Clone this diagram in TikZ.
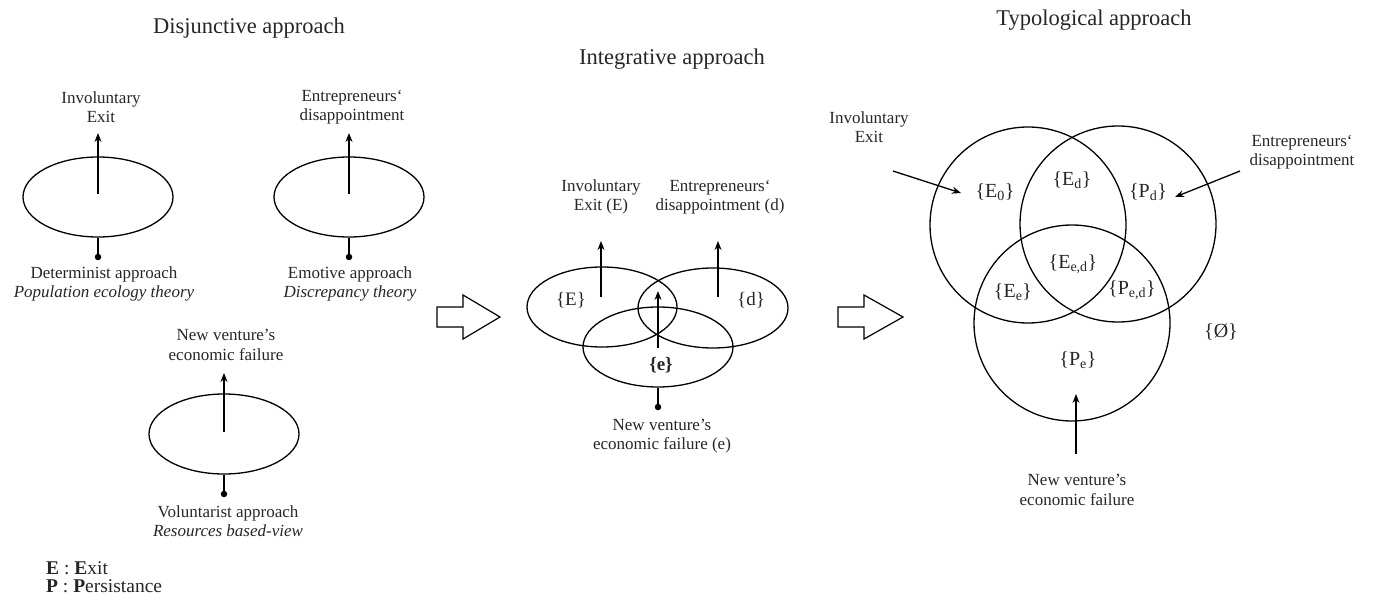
\documentclass[tikz,border=0pt]{standalone}
\usepackage{fontspec}
\setmainfont{Liberation Serif}
\usetikzlibrary{shapes.geometric,arrows.meta}
\begin{document}
\begin{tikzpicture}[x=1pt,y=-1pt,
  lbl/.style={align=center,inner sep=0pt,font=\fontsize{17}{19.5}\selectfont,text=black!85},
  set/.style={inner sep=0pt,font=\fontsize{20}{22}\selectfont,text=black!85},
  ttl/.style={inner sep=0pt,font=\fontsize{22.5}{25}\selectfont,text=black!85},
  legend/.style={anchor=base west,inner sep=0pt,font=\fontsize{19.5}{21}\selectfont,text=black!85},
  oval/.style={draw,ellipse,line width=1.3pt,minimum width=150pt,minimum height=80pt,inner sep=0pt},
  venn/.style={draw,circle,line width=1.3pt,minimum size=196pt,inner sep=0pt},
  up/.style={line width=1.3pt,-{Stealth[length=9pt,width=7pt]}},
  stem/.style={line width=1.3pt},
  dotn/.style={circle,fill,inner sep=0pt,minimum size=6.5pt},
  hollow/.style={draw,line width=1.2pt,fill=white}]
\useasboundingbox (0,0) rectangle (1384,596);

% ---------- titles
\node[ttl] (t1) at (249,28) {Disjunctive approach};
\node[ttl] (t2) at (672,59) {Integrative approach};
\node[ttl] (t3) at (1094,20) {Typological approach};

% ---------- disjunctive approach
\node[oval] (o1) at (98,197) {};
\node[oval] (o2) at (349,197) {};
\node[oval] (o3) at (224,434) {};
\coordinate (o1c) at (98,194); \coordinate (o1t) at (98,133);
\coordinate (o2c) at (349,194); \coordinate (o2t) at (349,133);
\coordinate (o3c) at (224,432); \coordinate (o3t) at (224,373);
\draw[up] (o1c) -- (o1t);
\draw[up] (o2c) -- (o2t);
\draw[up] (o3c) -- (o3t);
\node[dotn] (d1) at (98,257) {};
\node[dotn] (d2) at (349,257) {};
\node[dotn] (d3) at (224,494) {};
\draw[stem] (o1.south) -- (d1.center);
\draw[stem] (o2.south) -- (d2.center);
\draw[stem] (o3.south) -- (d3.center);
\node[lbl] (l1) at (101,107) {Involuntary\\Exit};
\node[lbl] (l2) at (352,107) {Entrepreneurs‘\\disappointment};
\node[lbl] (l3) at (226,345) {New venture’s\\economic failure};
\node[lbl] (b1) at (104,284) {Determinist approach\\\textit{Population ecology theory}};
\node[lbl] (b2) at (350,284) {Emotive approach\\\textit{Discrepancy theory}};
\node[lbl] (b3) at (228,521) {Voluntarist approach\\\textit{Resources based-view}};

% ---------- legend
\node[legend] (leg1) at (46,574) {\textbf{E} : \textbf{E}xit};
\node[legend] (leg2) at (46,592) {\textbf{P} : \textbf{P}ersistance};

% ---------- hollow arrows
\draw[hollow] (437,307) -- (463,307) -- (463,295) -- (500,317) -- (463,339) -- (463,327) -- (437,327) -- cycle;
\draw[hollow] (838,307) -- (864,307) -- (864,295) -- (903,317) -- (864,339) -- (864,327) -- (838,327) -- cycle;

% ---------- integrative approach
\node[oval] (iE) at (602,307) {};
\node[oval] (id) at (713,308) {};
\node[oval] (ie) at (658,347) {};
\coordinate (iEc) at (601,297); \coordinate (iEt) at (601,241);
\coordinate (idc) at (718,297); \coordinate (idt) at (718,241);
\coordinate (iec) at (658,348); \coordinate (iet) at (658,291);
\draw[up] (iEc) -- (iEt);
\draw[up] (idc) -- (idt);
\draw[up] (iec) -- (iet);
\node[dotn] (ied) at (658,407) {};
\draw[stem] (ie.south) -- (ied.center);
\node[set,font=\fontsize{19}{21}\selectfont] (iEl) at (571,300) {\{E\}};
\node[set,font=\fontsize{19}{21}\selectfont] (idl) at (751,300) {\{d\}};
\node[set,font=\fontsize{19}{21}\selectfont] (iel) at (661,365) {\textbf{\{e\}}};
\node[lbl] (iEt2) at (601,197) {Involuntary\\Exit (E)};
\node[lbl] (idt2) at (720,197) {Entrepreneurs‘\\disappointment (d)};
\node[lbl] (iet2) at (662,436) {New venture’s\\economic failure (e)};

% ---------- typological approach
\node[venn] (cE) at (1028,225) {};
\node[venn] (cD) at (1118,224) {};
\node[venn] (cF) at (1072,323) {};
\node[set] (s1) at (995,192) {\{E\textsubscript{0}\}};
\node[set] (s2) at (1072,180) {\{E\textsubscript{d}\}};
\node[set] (s3) at (1148,192) {\{P\textsubscript{d}\}};
\node[set] (s4) at (1073,264) {\{E\textsubscript{e,d}\}};
\node[set] (s5) at (1013,292) {\{E\textsubscript{e}\}};
\node[set] (s6) at (1132,290) {\{P\textsubscript{e,d}\}};
\node[set] (s7) at (1078,360) {\{P\textsubscript{e}\}};
\node[set] (s8) at (1221,332) {\{Ø\}};
\node[lbl] (tx1) at (869,127) {Involuntary\\Exit};
\node[lbl] (tx2) at (1302,152) {Entrepreneurs‘\\disappointment};
\node[lbl] (tx3) at (1077,490) {New venture’s\\economic failure};
\coordinate (a1s) at (893,171); \coordinate (a1e) at (961,193);
\coordinate (a2s) at (1240,171); \coordinate (a2e) at (1175,197);
\coordinate (a3s) at (1076,454); \coordinate (a3e) at (1076,394);
\draw[up] (a1s) -- (a1e);
\draw[up] (a2s) -- (a2e);
\draw[up] (a3s) -- (a3e);
\end{tikzpicture}
\end{document}
